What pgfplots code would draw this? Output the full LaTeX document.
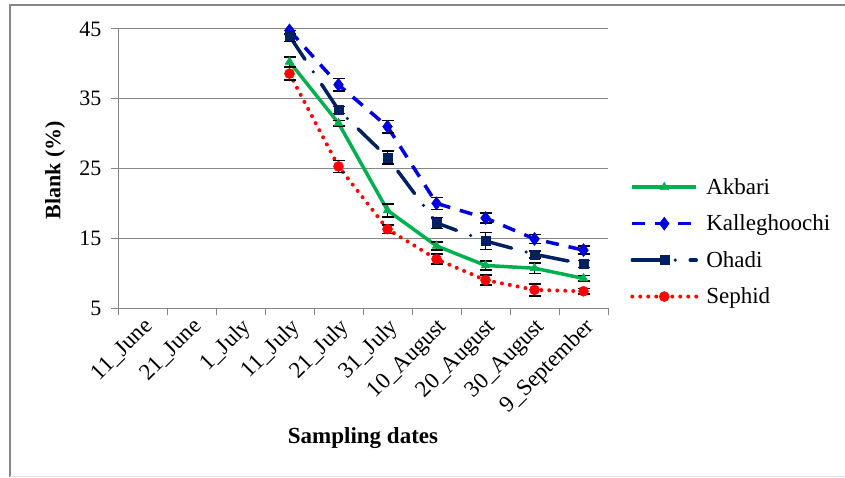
\documentclass[border=0pt]{standalone}
\usepackage{pgfplots}
\pgfplotsset{compat=1.18}
\usepackage{fontspec}
\setmainfont{Liberation Serif}
\definecolor{cgreen}{HTML}{00B050}
\definecolor{cblue}{HTML}{0000DD}
\definecolor{cnavy}{HTML}{002060}
\definecolor{cred}{HTML}{FF0000}
\definecolor{cgrid}{HTML}{868686}

\pgfplotstableread{
x y e
3 40.3 0.7
4 31.5 0.4
5 19.0 0.95
6 13.9 0.6
7 11.1 0.65
8 10.7 0.75
9 9.25 0.4
}\akbari
\pgfplotstableread{
x y e
3 44.8 0.5
4 37.0 0.9
5 31.0 0.9
6 20.0 0.85
7 17.9 0.75
8 14.9 0.65
9 13.3 0.6
}\kalle
\pgfplotstableread{
x y e
3 44.0 0.8
4 33.4 0.5
5 26.6 0.95
6 17.2 0.8
7 14.6 1.2
8 12.7 0.5
9 11.3 0.5
}\ohadi
\pgfplotstableread{
x y e
3 38.6 0.95
4 25.3 0.85
5 16.3 0.6
6 12.0 0.7
7 9.0 0.7
8 7.6 0.85
9 7.4 0.4
}\sephid

\begin{document}
\begin{tikzpicture}[x=1pt,y=1pt]
\useasboundingbox (0,0) rectangle (845,477);
\draw[cgrid, line width=2.2pt] (10,0) -- (10,472) -- (846,472);
\draw[gray!25, line width=1pt] (10,1) -- (846,1);
\begin{axis}[
  at={(118pt,169pt)}, anchor=south west,
  scale only axis, width=490pt, height=279pt,
  xmin=-0.5, xmax=9.5, ymin=5, ymax=45,
  ytick={5,15,25,35,45},
  xtick={0,...,9},
  xticklabels={11\_June,21\_June,1\_July,11\_July,21\_July,31\_July,10\_August,20\_August,30\_August,9\_September},
  minor xtick={-0.5,0.5,...,9.5},
  major x tick style={draw=none},
  minor x tick style={cgrid, line width=1pt},
  major y tick style={cgrid, line width=1pt},
  major tick length=7pt, minor tick length=7pt,
  tick align=outside,
  axis x line*=bottom, axis y line*=left,
  axis line style={cgrid, line width=1pt},
  ymajorgrids, grid style={cgrid, line width=1pt},
  yticklabel style={font=\fontsize{22}{25}\selectfont, xshift=-6pt},
  /pgf/number format/assume math mode=true,
  xticklabel style={font=\fontsize{23}{26}\selectfont, rotate=45, anchor=north east, inner sep=1pt},
  legend style={at={(1.045,0.237)}, anchor=west, draw=none, fill=none,
    font=\fontsize{23}{26}\selectfont, inner sep=0pt, row sep=15pt,
    /tikz/every odd column/.append style={column sep=6pt},
    cells={anchor=west}},
  legend cell align=left,
  legend image code/.code={\draw[mark repeat=2,mark phase=2] plot coordinates {(0pt,0pt) (32pt,0pt) (64pt,0pt)};},
  error bars/y dir=both, error bars/y explicit,
  error bars/error bar style={black, line width=1.6pt, solid},
  error bars/error mark options={black, line width=1.6pt, mark size=6pt, rotate=90, solid},
]
\addplot[cgreen, line width=3.5pt, mark=triangle*, mark size=5pt, mark options={solid, line width=0.5pt}]
  table[x=x, y=y, y error=e] {\akbari};
\addlegendentry{Akbari}
\addplot[cblue, line width=3.5pt, dash pattern=on 13pt off 10pt, mark=diamond*, mark size=6.5pt, mark options={solid, line width=0.5pt}]
  table[x=x, y=y, y error=e] {\kalle};
\addlegendentry{Kalleghoochi}
\addplot[cnavy, line width=3.5pt, line cap=round, dash pattern=on 28pt off 15pt on 0pt off 15pt, mark=square*, mark size=4.5pt, mark options={solid, line width=0.5pt}]
  table[x=x, y=y, y error=e] {\ohadi};
\addlegendentry{Ohadi}
\addplot[cred, line width=4pt, line cap=round, dash pattern=on 0pt off 8pt, mark=*, mark size=5pt, mark options={solid, line width=0.5pt}]
  table[x=x, y=y, y error=e] {\sephid};
\addlegendentry{Sephid}
\end{axis}
\node[rotate=90, font=\bfseries\fontsize{22}{25}\selectfont] at (55,307) {Blank (\%)};
\node[font=\bfseries\fontsize{23}{26}\selectfont] at (363,39) {Sampling dates};
\end{tikzpicture}
\end{document}
